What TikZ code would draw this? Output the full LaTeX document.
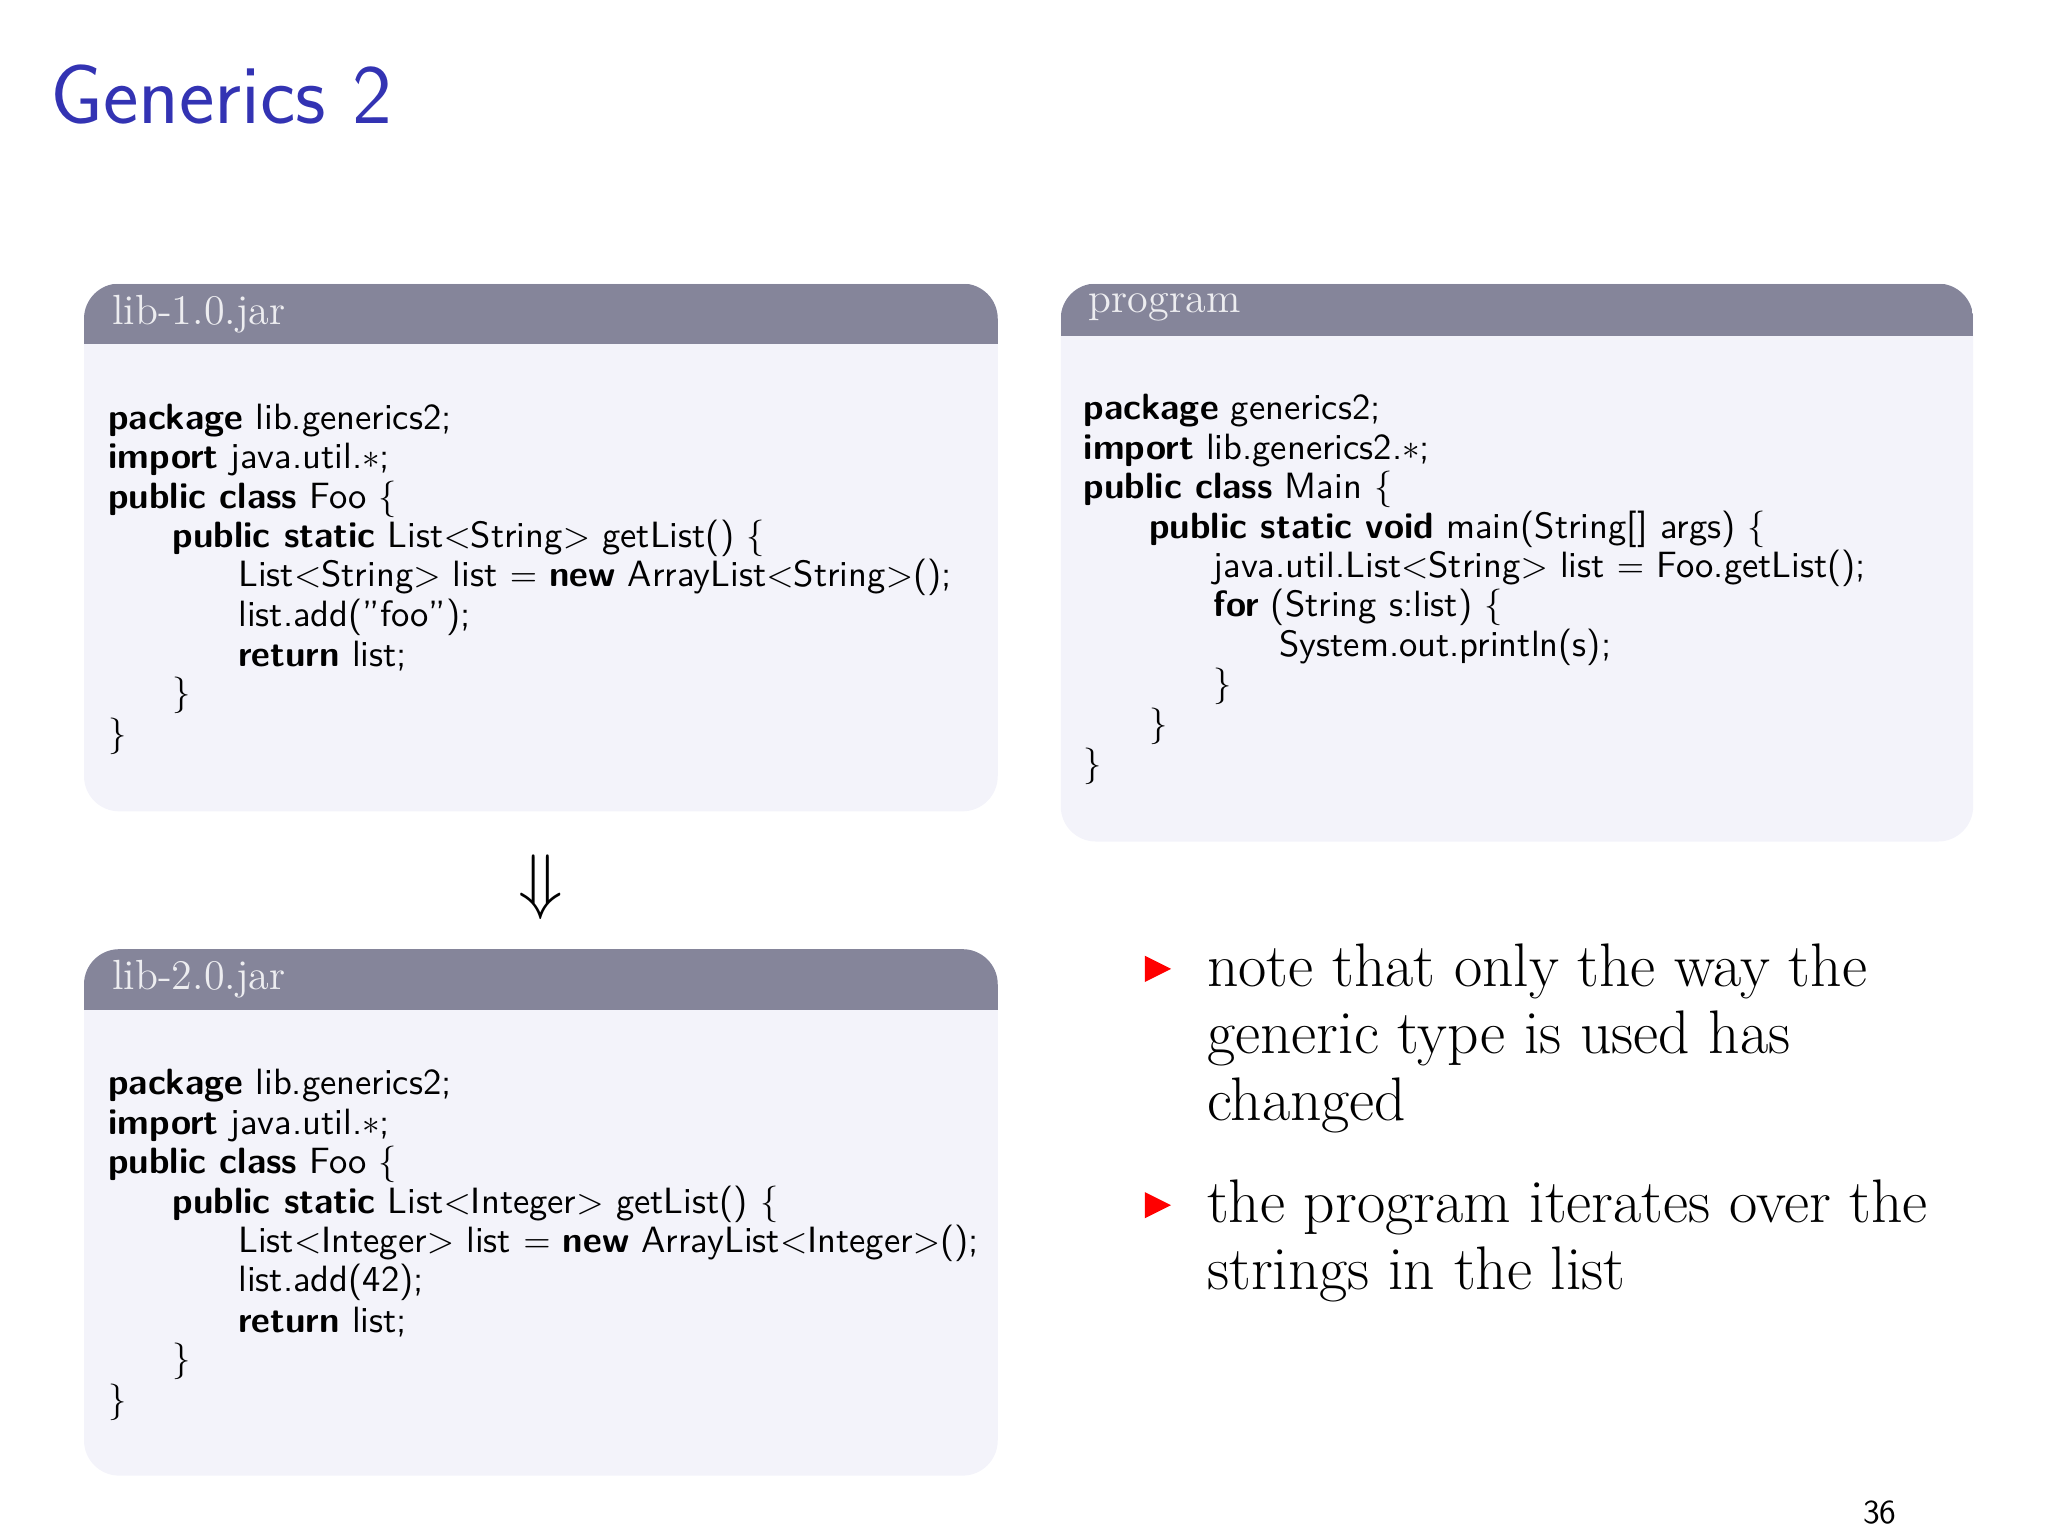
\documentclass[tikz,border=0pt]{standalone}
\usetikzlibrary{positioning}
\definecolor{hdr}{HTML}{85859A}
\definecolor{bodyc}{HTML}{F3F3FA}
\definecolor{titc}{HTML}{3333B3}
\tikzset{
 cbox/.style={fill=bodyc,rounded corners=10pt},
 hbar/.style={fill=hdr},
 htext/.style={anchor=west,text=white!85!hdr,font=\fontsize{12}{14}\selectfont},
 code/.style={anchor=west,inner sep=0pt,font=\sffamily\fontsize{10.4}{12}\selectfont},
 bul/.style={anchor=west,inner sep=0pt,font=\fontsize{17.5}{20}\selectfont},
}
\newcommand{\cl}[4]{\node[code] (#1) at (#2,#3) {#4};}
\begin{document}
\begin{tikzpicture}[x=0.013128cm,y=-0.013128cm]
\useasboundingbox (0,0) rectangle (1560,1170);
\node[anchor=west,inner sep=0pt,text=titc,font=\sffamily\fontsize{24}{28}\selectfont] (title) at (38,72) {Generics 2};
% boxes
\foreach \nm/\xa/\ya/\xb/\yb/\hb in {A/64/216/760/618/262, B/808/216/1503/641/256, C/64/723/760/1124/769}{
 \fill[cbox] (\xa,\ya) rectangle (\xb,\yb);
 \begin{scope}
 \clip[rounded corners=10pt] (\xa,\ya) rectangle (\xb,\yb);
 \fill[hbar] (\xa,\ya) rectangle (\xb,\hb);
 \end{scope}
}
\node[htext] (ha) at (76,239) {lib-1.0.jar};
\node[htext] (hb) at (820,234) {program};
\node[htext] (hc) at (76,746) {lib-2.0.jar};
% box A
\cl{a1}{82}{320}{\textbf{package} lib.generics2;}
\cl{a2}{82}{350}{\textbf{import} java.util.$\ast$;}
\cl{a3}{82}{380}{\textbf{public class} Foo \{}
\cl{a4}{131}{410}{\textbf{public static} List$<$String$>$ getList() \{}
\cl{a5}{181}{440}{List$<$String$>$ list $=$ \textbf{new} ArrayList$<$String$>$();}
\cl{a6}{181}{470}{list.add("foo");}
\cl{a7}{181}{500}{\textbf{return} list;}
\cl{a8}{131}{530}{\}}
\cl{a9}{82}{561}{\}}
% box B
\cl{b1}{825}{313}{\textbf{package} generics2;}
\cl{b2}{825}{343}{\textbf{import} lib.generics2.$\ast$;}
\cl{b3}{825}{373}{\textbf{public class} Main \{}
\cl{b4}{875}{403}{\textbf{public static void} main(String[] args) \{}
\cl{b5}{924}{433}{java.util.List$<$String$>$ list $=$ Foo.getList();}
\cl{b6}{924}{463}{\textbf{for} (String s:list) \{}
\cl{b7}{974}{493}{System.out.println(s);}
\cl{b8}{924}{523}{\}}
\cl{b9}{875}{553}{\}}
\cl{b10}{825}{584}{\}}
% box C
\cl{c1}{82}{827}{\textbf{package} lib.generics2;}
\cl{c2}{82}{857}{\textbf{import} java.util.$\ast$;}
\cl{c3}{82}{887}{\textbf{public class} Foo \{}
\cl{c4}{131}{917}{\textbf{public static} List$<$Integer$>$ getList() \{}
\cl{c5}{181}{947}{List$<$Integer$>$ list $=$ \textbf{new} ArrayList$<$Integer$>$();}
\cl{c6}{181}{977}{list.add(42);}
\cl{c7}{181}{1007}{\textbf{return} list;}
\cl{c8}{131}{1037}{\}}
\cl{c9}{82}{1068}{\}}
% arrow
\node[font=\fontsize{20}{22}\selectfont] (arr) at (412,676) {$\Downarrow$};
% bullets
\fill[red] (872,728) -- (892,738) -- (872,748) -- cycle;
\fill[red] (872,908) -- (892,918) -- (872,928) -- cycle;
\node[bul] (t1) at (919,740) {note that only the way the};
\node[bul] (t2) at (919,791) {generic type is used has};
\node[bul] (t3) at (919,842) {changed};
\node[bul] (t4) at (919,920) {the program iterates over the};
\node[bul] (t5) at (919,971) {strings in the list};
\node[font=\sffamily\fontsize{9.5}{11}\selectfont] (pg) at (1432,1152) {36};
\end{tikzpicture}
\end{document}
